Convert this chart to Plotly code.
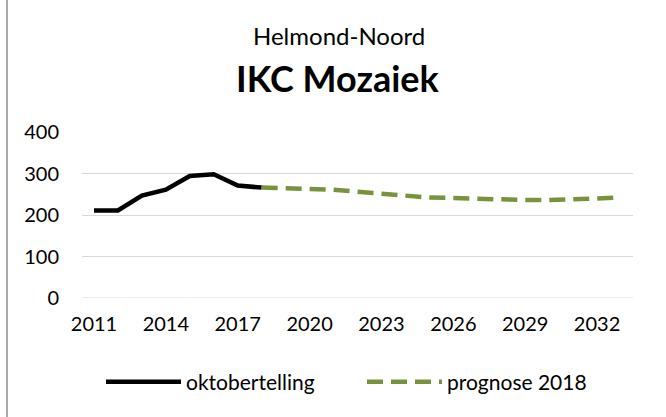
import plotly.graph_objects as go

years_okt = [2011, 2012, 2013, 2014, 2015, 2016, 2017, 2018]
okt_values = [211, 211, 247, 261, 294, 298, 271, 266]

years_prog = list(range(2018, 2034))
prog_values = [266, 265, 264, 261, 256, 251, 246, 242, 241, 239, 237, 236, 236, 238, 241, 242]

tick_years = [2011, 2014, 2017, 2020, 2023, 2026, 2029, 2032]
y_ticks = [0, 100, 200, 300, 400]

FONT = "Lato"

fig = go.Figure()
fig.add_trace(go.Scatter(x=years_okt, y=okt_values, mode="lines", name="oktobertelling",
                         line=dict(color="#000000", width=4.5)))
fig.add_trace(go.Scatter(x=years_prog, y=prog_values, mode="lines", name="prognose 2018",
                         line=dict(color="#77933C", width=4.5, dash="16px,8px")))

L, R, T, B = 82, 33, 132, 119
W, H = 666, 417
pw = W - L - R
ph = H - T - B

def px_x(x):
    return (x - L) / pw

def px_y(y):
    return (H - B - y) / ph

fig.update_layout(
    width=W, height=H,
    margin=dict(l=L, r=R, t=T, b=B),
    paper_bgcolor="white", plot_bgcolor="white",
    font=dict(family=FONT, size=20, color="#000000"),
    showlegend=True,
    legend=dict(orientation="h", x=px_x(101), xanchor="left", y=px_y(382), yanchor="middle",
                font=dict(size=21), itemwidth=75, entrywidth=171),
    xaxis=dict(range=[2010.5, 2033.5], tickvals=tick_years, ticktext=[str(t) for t in tick_years],
               showgrid=False, zeroline=False, showline=False, ticks="", ticklabelstandoff=12),
    yaxis=dict(range=[0, 400], tickvals=y_ticks, showgrid=True, gridcolor="#D9D9D9", gridwidth=1,
               zeroline=False, showline=False, ticks="", ticklabelstandoff=22),
    annotations=[
        dict(text="Helmond-Noord", x=px_x(339), y=px_y(36), xref="paper", yref="paper",
             showarrow=False, font=dict(size=24, family=FONT), xanchor="center", yanchor="middle"),
        dict(text="<b>IKC Mozaiek</b>", x=px_x(338), y=px_y(78), xref="paper", yref="paper",
             showarrow=False, font=dict(size=36, family=FONT), xanchor="center", yanchor="middle"),
    ],
    shapes=[
        dict(type="line", xref="paper", yref="paper", x0=px_x(7), x1=px_x(7), y0=px_y(0), y1=px_y(417),
             line=dict(color="#8C8C8C", width=1.5)),
        dict(type="line", xref="paper", yref="y", x0=0, x1=1, y0=0, y1=0,
             line=dict(color="#D9D9D9", width=1), layer="below"),
    ],
)

fig.write_html("out.html", config={"displayModeBar": False},
               post_script="document.body.style.margin='0';document.body.style.overflow='hidden';")
